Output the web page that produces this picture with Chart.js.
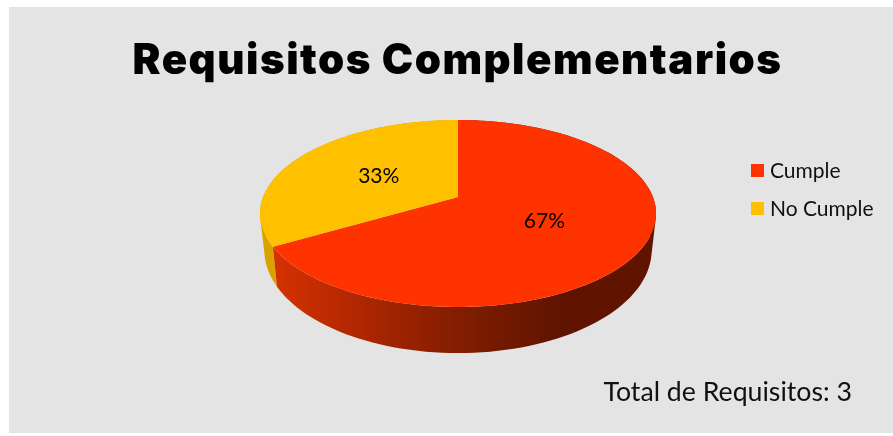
<!DOCTYPE html>
<html>
<head>
<meta charset="utf-8">
<script src="https://cdn.jsdelivr.net/npm/chart.js@4"></script>
<style>
    html, body { margin: 0; padding: 0; background: #fff; overflow: hidden; }
    #panel { position: absolute; left: 9px; top: 7px; width: 884px; height: 426px; background: #e4e4e4; }
    #wrap { position: absolute; left: 0; top: 0; width: 893px; height: 436px; }
</style>
</head>
<body>
<div id="panel"></div>
<div id="wrap"><canvas id="requisitosChart" width="893" height="436"></canvas></div>
<script>
const categories = ['Cumple', 'No Cumple'];
const requisitos = [2, 1];
const sliceColors = ['#ff3300', '#ffc000'];
const titleText = 'Requisitos Complementarios';
const totalText = 'Total de Requisitos: 3';

const total = requisitos.reduce((a, b) => a + b, 0);

// Perspective of the tilted disc: top face and lower rim of the wall
const disc = { x: 458, y: 197, sx: 194.9, sy: 90.6, k: -0.1765 };
const rim = { x: 458, y: 232, sx: 190.6, sy: 99.7, k: -0.1765 };

// Chart.js arc angles start at -PI/2, so a + PI/2 is the clockwise angle from the top
function project(p, angle, r) {
    const t = angle + Math.PI / 2;
    const u = Math.sin(t) * r;
    const v = -Math.cos(t) * r;
    const d = 1 + p.k * v;
    return { x: p.x + p.sx * u / d, y: p.y + p.sy * v / d };
}

function wallFill(ctx, index) {
    const g = ctx.createLinearGradient(273, 0, 560, 0);
    if (index === 0) {
        g.addColorStop(0, '#d63200');
        g.addColorStop(0.35, '#a82500');
        g.addColorStop(0.7, '#7c1c00');
        g.addColorStop(1, '#601400');
    } else {
        g.addColorStop(0, '#d8a300');
        g.addColorStop(1, '#d8a300');
    }
    return g;
}

const pie3d = {
    id: 'pie3d',
    afterLayout(chart) {
        // the title gets its own tracking, the other labels stay at normal spacing
        const block = chart.titleBlock;
        const draw = block.draw;
        block.draw = function () {
            chart.ctx.letterSpacing = '1.5px';
            draw.call(block);
            chart.ctx.letterSpacing = '0px';
        };
    },
    beforeDatasetsDraw(chart) {
        const ctx = chart.ctx;
        const arcs = chart.getDatasetMeta(0).data;

        // side wall of each slice: thin quads in one path, all wound the same way
        [...arcs.keys()].reverse().forEach(i => {
            const arc = arcs[i];
            const n = 120;
            const span = arc.endAngle - arc.startAngle;
            ctx.beginPath();
            for (let s = 0; s < n; s++) {
                const a0 = arc.startAngle + span * s / n;
                const a1 = arc.startAngle + span * (s + 1) / n;
                let quad = [project(disc, a0, 1), project(disc, a1, 1), project(rim, a1, 1), project(rim, a0, 1)];
                const area = quad.reduce((sum, p, j) => {
                    const q = quad[(j + 1) % 4];
                    return sum + p.x * q.y - q.x * p.y;
                }, 0);
                if (area < 0) quad = quad.reverse();
                quad.forEach((p, j) => j ? ctx.lineTo(p.x, p.y) : ctx.moveTo(p.x, p.y));
                ctx.closePath();
            }
            ctx.fillStyle = wallFill(ctx, i);
            ctx.fill();
        });

        // top face
        arcs.forEach((arc, i) => {
            const n = 180;
            ctx.beginPath();
            ctx.moveTo(disc.x, disc.y);
            for (let s = 0; s <= n; s++) {
                const pt = project(disc, arc.startAngle + (arc.endAngle - arc.startAngle) * s / n, 1);
                ctx.lineTo(pt.x, pt.y);
            }
            ctx.closePath();
            ctx.fillStyle = sliceColors[i];
            ctx.fill();
        });

        // percentage labels
        ctx.font = '21px Lato';
        ctx.fillStyle = '#000';
        ctx.textAlign = 'center';
        ctx.textBaseline = 'middle';
        arcs.forEach((arc, i) => {
            const pt = project(disc, (arc.startAngle + arc.endAngle) / 2, 0.49);
            ctx.fillText(Math.round(requisitos[i] / total * 100) + '%', pt.x, pt.y + 1);
        });

        // legend
        ctx.font = '21px Lato';
        ctx.textAlign = 'left';
        categories.forEach((name, i) => {
            const y = 164 + i * 38;
            ctx.fillStyle = sliceColors[i];
            ctx.fillRect(751, y, 13, 13);
            ctx.fillStyle = '#111';
            ctx.fillText(name, 770, y + 7);
        });
        return false;
    }
};

new Chart(document.getElementById('requisitosChart'), {
    type: 'pie',
    data: {
        labels: categories,
        datasets: [{
            data: requisitos,
            backgroundColor: sliceColors,
            borderWidth: 0
        }]
    },
    options: {
        responsive: false,
        animation: false,
        layout: { padding: { left: 63, right: 41, top: 24, bottom: 28 } },
        plugins: {
            tooltip: { enabled: false },
            legend: { display: false },
            title: {
                display: true,
                text: titleText,
                color: '#000',
                font: { family: 'Inter', size: 42, weight: '900' },
                padding: { top: 12, bottom: 10 }
            },
            subtitle: {
                display: true,
                position: 'bottom',
                align: 'end',
                text: totalText,
                color: '#111',
                font: { family: 'Lato', size: 26.7, weight: 'normal' },
                padding: 0
            }
        }
    },
    plugins: [pie3d]
});
</script>
</body>
</html>
